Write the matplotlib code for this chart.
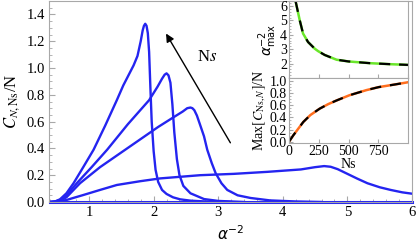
import matplotlib
matplotlib.use('Agg')
import matplotlib.pyplot as plt
from matplotlib.ticker import AutoMinorLocator, FixedLocator

plt.rcParams['font.family'] = ['Liberation Serif', 'DejaVu Serif']
plt.rcParams['mathtext.fontset'] = 'stix'

# main curves, C_{N,Ns}/N vs alpha^-2 (one per Ns)
x1 = [0.40, 0.47, 0.55, 0.65, 0.76, 0.91, 1.07, 1.25, 1.43, 1.53, 1.69, 1.75, 1.80, 1.83, 1.85, 1.87, 1.89,
      1.91, 1.93, 1.95, 1.97, 2.00, 2.03, 2.07, 2.13, 2.20, 2.30, 2.41, 2.57, 2.80, 3.20]
y1 = [0.0, 0.003, 0.02, 0.065, 0.14, 0.26, 0.39, 0.57, 0.76, 0.87, 1.02, 1.09, 1.20, 1.28, 1.315, 1.33, 1.315,
      1.26, 1.12, 0.85, 0.60, 0.38, 0.24, 0.15, 0.09, 0.06, 0.035, 0.02, 0.01, 0.004, 0.0]
x2 = [0.40, 0.47, 0.55, 0.65, 0.81, 1.04, 1.28, 1.60, 1.93, 2.06, 2.13, 2.17, 2.20, 2.23, 2.26, 2.29,
      2.32, 2.36, 2.40, 2.46, 2.57, 2.78, 3.00, 3.40]
y2 = [0.0, 0.003, 0.015, 0.05, 0.14, 0.26, 0.39, 0.58, 0.76, 0.86, 0.92, 0.95, 0.96, 0.945, 0.89, 0.73,
      0.52, 0.32, 0.20, 0.12, 0.065, 0.022, 0.008, 0.0]
x3 = [0.40, 0.47, 0.55, 0.65, 0.86, 1.17, 1.56, 2.07, 2.30, 2.45, 2.52, 2.57, 2.60, 2.63, 2.67,
      2.72, 2.78, 2.83, 2.90, 2.96, 3.05, 3.14, 3.30, 3.50, 3.80, 4.20, 4.60]
y3 = [0.0, 0.002, 0.01, 0.035, 0.14, 0.26, 0.39, 0.56, 0.63, 0.675, 0.70, 0.705, 0.70, 0.685, 0.645,
      0.575, 0.49, 0.39, 0.29, 0.215, 0.14, 0.09, 0.05, 0.03, 0.012, 0.004, 0.0]
x4 = [0.40, 0.50, 0.65, 0.91, 1.17, 1.43, 1.79, 2.10, 2.72, 3.24, 3.76, 4.28, 4.50, 4.64, 4.74, 4.85,
      5.00, 5.15, 5.31, 5.50, 5.67, 5.85, 6.00]
y4 = [0.0, 0.004, 0.015, 0.052, 0.09, 0.127, 0.155, 0.176, 0.20, 0.21, 0.225, 0.243, 0.26, 0.268, 0.263, 0.245,
      0.21, 0.175, 0.14, 0.11, 0.09, 0.072, 0.062]
x5 = [0.40, 6.00]
y5 = [0.0, 0.0]

# inset data
ns_a = [55, 90, 118, 160, 216, 244, 300, 400, 500, 680, 850, 1000]
amax = [6.35, 5.02, 4.09, 3.50, 3.04, 2.87, 2.60, 2.27, 2.15, 2.03, 1.96, 1.91]
ns_c = [0, 36, 80, 120, 180, 258, 330, 400, 507, 650, 754, 880, 1000]
cmax = [0.0, 0.105, 0.22, 0.325, 0.44, 0.545, 0.62, 0.68, 0.765, 0.85, 0.90, 0.94, 0.98]

blue = '#2424f0'
frame = '#a8a8a8'

fig = plt.figure(figsize=(4.16, 2.44), dpi=100)
ax = fig.add_axes([49/416, 42/244, 363/416, 201/244])
ax.plot(x5, y5, color=blue, lw=2.2, clip_on=False)
for xs, ys in [(x4, y4), (x3, y3), (x2, y2), (x1, y1)]:
    ax.plot(xs, ys, color=blue, lw=1.7, solid_joinstyle='round')
ax.set_xlim(0.38, 6.0)
ax.set_ylim(0, 1.5)
ax.set_yticks([0.0, 0.2, 0.4, 0.6, 0.8, 1.0, 1.2, 1.4])
ax.set_yticklabels(['0.0', '0.2', '0.4', '0.6', '0.8', '1.0', '1.2', '1.4'])
ax.set_xticks([1, 2, 3, 4, 5, 6])
ax.xaxis.set_minor_locator(AutoMinorLocator(5))
ax.yaxis.set_minor_locator(AutoMinorLocator(4))
ax.tick_params(which='both', direction='in', color=frame, labelsize=10.5, pad=3)
ax.tick_params(which='major', length=4)
ax.tick_params(which='minor', length=2)
for s in ax.spines.values():
    s.set_color(frame)
ax.set_xlabel(r'$\alpha^{-2}$', fontsize=11, labelpad=4, math_fontfamily='dejavusans')
ax.set_ylabel(r'$C_{N,\mathrm{Ns}}$/N', fontsize=12, labelpad=3)

ax.annotate('', xy=(2.17, 1.275), xytext=(3.21, 0.424),
            arrowprops=dict(arrowstyle='-|>', color='black', lw=1.0, mutation_scale=12))
ax.text(2.83, 1.08, r'N$\mathit{s}$', fontsize=12, ha='center', va='center')

# top inset
ia = fig.add_axes([289/416, (244-78)/244, 119/416, 77/244])
ia.plot(ns_a, amax, color='#6ae62a', lw=1.8)
ia.plot(ns_a, amax, color='black', lw=1.6, dashes=(5, 4))
ia.set_xlim(0, 1000)
ia.set_ylim(1.0, 6.35)
ia.set_yticks([2, 3, 4, 5, 6])
ia.xaxis.set_major_locator(FixedLocator([0, 250, 500, 750, 1000]))
ia.yaxis.set_minor_locator(AutoMinorLocator(5))
ia.tick_params(which='both', direction='in', color=frame, labelsize=10, pad=1.5)
ia.tick_params(axis='x', labelbottom=False)
ia.tick_params(which='major', length=3)
ia.tick_params(which='minor', length=1.5)
for s in ia.spines.values():
    s.set_color(frame)
ia.set_ylabel(r'$\alpha^{-2}_{\mathrm{max}}$', fontsize=10, labelpad=1, math_fontfamily='dejavusans')

# bottom inset
ib = fig.add_axes([289/416, (244-142.5)/244, 119/416, 64.8/244])
ib.plot(ns_c, cmax, color='#ff6e1e', lw=1.8)
ib.plot(ns_c, cmax, color='black', lw=1.6, dashes=(5, 4))
ib.set_xlim(0, 1000)
ib.set_ylim(-0.013, 1.055)
ib.set_yticks([0.0, 0.2, 0.4, 0.6, 0.8, 1.0])
ib.set_yticklabels(['0.0', '0.2', '0.4', '0.6', '0.8', '1.0'])
ib.set_xticks([0, 250, 500, 750])
ib.yaxis.set_minor_locator(AutoMinorLocator(4))
ib.tick_params(which='both', direction='in', color=frame, labelsize=10, pad=1.5)
ib.tick_params(which='major', length=3)
ib.tick_params(which='minor', length=1.5)
for s in ib.spines.values():
    s.set_color(frame)
ib.set_xlabel('Ns', fontsize=10, labelpad=0)
ib.set_ylabel(r'Max$[C_{\mathrm{Ns},N}]$/N', fontsize=10, labelpad=1)

fig.savefig('out.png', dpi=100)
